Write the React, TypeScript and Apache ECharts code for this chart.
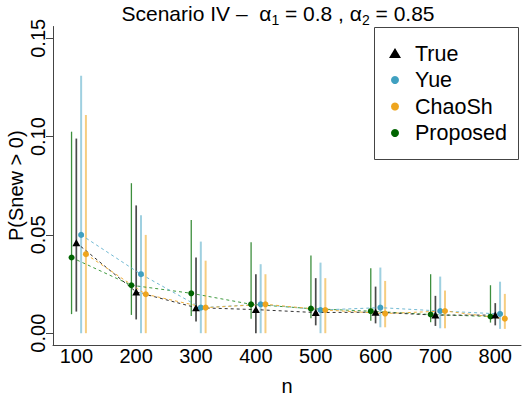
import React, { useEffect, useRef } from "react";
import * as echarts from "echarts";

// ---- data ----
const nValues = [100, 200, 300, 400, 500, 600, 700, 800];
const xTicks = [100, 200, 300, 400, 500, 600, 700, 800];
const yTicks = [0, 0.05, 0.1, 0.15];

const trueEst = [0.046, 0.021, 0.013, 0.012, 0.0105, 0.0107, 0.0092, 0.0092];
const trueLo = [0.011, 0.007, 0.006, 0.0, 0.004, 0.005, 0.0037, 0.004];
const trueHi = [0.099, 0.065, 0.0385, 0.03, 0.028, 0.0237, 0.019, 0.0153];

const yueEst = [0.05, 0.03, 0.013, 0.0147, 0.0118, 0.013, 0.0113, 0.0098];
const yueLo = [0.0, 0.0, 0.0, 0.0, 0.0, 0.003, 0.0025, 0.0022];
const yueHi = [0.131, 0.06, 0.0466, 0.0351, 0.0359, 0.0334, 0.0288, 0.0262];

const chaoEst = [0.0402, 0.0198, 0.013, 0.0147, 0.0118, 0.01, 0.0113, 0.0074];
const chaoLo = [0.0, 0.0, 0.0, 0.0, 0.0, 0.003, 0.0025, 0.0022];
const chaoHi = [0.111, 0.05, 0.0369, 0.03, 0.028, 0.0266, 0.0217, 0.02];

const propEst = [0.0385, 0.0244, 0.0203, 0.0147, 0.0125, 0.0112, 0.0095, 0.0085];
const propLo = [0.0097, 0.0093, 0.0088, 0.0073, 0.0076, 0.0063, 0.0056, 0.0054];
const propHi = [0.1025, 0.0763, 0.0576, 0.0463, 0.0395, 0.033, 0.03, 0.0244];

const seriesNames = ["True", "Yue", "ChaoSh", "Proposed"];

const FONT = "'Liberation Sans', Arial, Helvetica, sans-serif";

type Method = {
  name: string;
  est: number[];
  lo: number[];
  hi: number[];
  dodge: number;
  point: string;
  bar: string;
  barWidth: number;
  dash: string;
  symbol: string;
  symbolSize: number | number[];
};

const methods: Method[] = [
  { name: seriesNames[3], est: propEst, lo: propLo, hi: propHi, dodge: -8, point: "#006400", bar: "#3d8f3d", barWidth: 1.3, dash: "#3f9a3f", symbol: "circle", symbolSize: 6 },
  { name: seriesNames[0], est: trueEst, lo: trueLo, hi: trueHi, dodge: 0, point: "#000000", bar: "#4a4a4a", barWidth: 1.7, dash: "#333333", symbol: "triangle", symbolSize: [8, 7] },
  { name: seriesNames[1], est: yueEst, lo: yueLo, hi: yueHi, dodge: 8, point: "#3fa0c0", bar: "#9fd0e0", barWidth: 2, dash: "#6fb8d2", symbol: "circle", symbolSize: 6 },
  { name: seriesNames[2], est: chaoEst, lo: chaoLo, hi: chaoHi, dodge: 16, point: "#eea51f", bar: "#f6cd80", barWidth: 2, dash: "#eeae3a", symbol: "circle", symbolSize: 6 },
];

export default function App() {
  const ref = useRef<HTMLDivElement>(null);
  useEffect(() => {
    if (!ref.current) return;
    const chart = echarts.init(ref.current, null, { renderer: "svg" });

    const series: any[] = [];
    methods.forEach((m) => {
      series.push({
        type: "custom",
        name: m.name + " CI",
        z: 1,
        silent: true,
        data: nValues.map((n, i) => [n + m.dodge, m.lo[i], m.hi[i]]),
        encode: { x: 0, y: [1, 2] },
        renderItem: (params: any, api: any) => {
          const x = api.value(0);
          const p1 = api.coord([x, api.value(1)]);
          const p2 = api.coord([x, api.value(2)]);
          return {
            type: "line",
            shape: { x1: p1[0], y1: p1[1], x2: p2[0], y2: p2[1] },
            style: { stroke: m.bar, lineWidth: m.barWidth },
          };
        },
      });
    });
    methods.forEach((m) => {
      series.push({
        type: "line",
        name: m.name,
        z: 3,
        data: nValues.map((n, i) => [n + m.dodge, m.est[i]]),
        symbol: m.symbol,
        symbolSize: m.symbolSize,
        showSymbol: true,
        itemStyle: { color: m.point },
        lineStyle: { color: m.dash, width: 1, type: [3, 3] },
      });
    });

    const legendRows = [
      { name: seriesNames[0], color: "#000000", tri: true },
      { name: seriesNames[1], color: "#3fa0c0", tri: false },
      { name: seriesNames[2], color: "#eea51f", tri: false },
      { name: seriesNames[3], color: "#006400", tri: false },
    ];
    const legendEls: any[] = [
      {
        type: "rect",
        shape: { x: 374.5, y: 27.5, width: 144, height: 132 },
        style: { fill: "#ffffff", stroke: "#444444", lineWidth: 1 },
        z: 10,
      },
    ];
    legendRows.forEach((r, i) => {
      const cy = 53.5 + i * 26.5;
      if (r.tri) {
        legendEls.push({
          type: "polygon",
          shape: { points: [[389, cy + 4.5], [401, cy + 4.5], [395, cy - 5.5]] },
          style: { fill: r.color },
          z: 11,
        });
      } else {
        legendEls.push({
          type: "circle",
          shape: { cx: 395, cy, r: 4 },
          style: { fill: r.color },
          z: 11,
        });
      }
      legendEls.push({
        type: "text",
        x: 415,
        y: cy,
        style: { text: r.name, fontSize: 21.5, fontFamily: FONT, fill: "#000", textVerticalAlign: "middle", textAlign: "left" },
        z: 11,
      });
    });

    legendEls.push({
      type: "text",
      x: 278,
      y: 13,
      style: {
        text: "{a|Scenario IV –  α}{s|1}{a| = 0.8 , α}{s|2}{a| = 0.85}",
        textAlign: "center",
        textVerticalAlign: "middle",
        rich: {
          a: { fontSize: 21, fontFamily: FONT, fill: "#000", lineHeight: 28, verticalAlign: "middle" },
          s: { fontSize: 14, fontFamily: FONT, fill: "#000", lineHeight: 14, verticalAlign: "bottom" },
        },
      },
      z: 11,
    });

    chart.setOption({
      animation: false,
      backgroundColor: "#ffffff",
      grid: { left: 53, right: 11, top: 26.5, bottom: 54, containLabel: false, outerBoundsMode: "none" },
      xAxis: {
        type: "value",
        min: 61,
        max: 843,
        name: "n",
        nameLocation: "middle",
        nameGap: 31,
        nameMoveOverlap: false,
        nameTextStyle: { fontSize: 20, fontFamily: FONT, color: "#000" },
        axisLine: { show: true, onZero: false, lineStyle: { color: "#444", width: 1 } },
        axisTick: { show: false },
        splitLine: { show: false },
        axisLabel: {
          customValues: xTicks,
          fontSize: 20,
          fontFamily: FONT,
          color: "#000",
          margin: 1,
        },
      },
      yAxis: {
        type: "value",
        min: -0.006,
        max: 0.156,
        name: "P(Snew > 0)",
        nameLocation: "middle",
        nameGap: 27,
        nameRotate: 90,
        nameMoveOverlap: false,
        nameTextStyle: { fontSize: 20, fontFamily: FONT, color: "#000" },
        axisLine: { show: true, lineStyle: { color: "#444", width: 1 } },
        axisTick: { show: true, customValues: yTicks, length: 7, lineStyle: { color: "#444" } },
        splitLine: { show: false },
        axisLabel: {
          customValues: yTicks,
          rotate: 90,
          fontSize: 20,
          fontFamily: FONT,
          color: "#000",
          margin: 5,
          formatter: (v: number) => v.toFixed(2),
        },
      },
      graphic: legendEls,
      series,
    });
    return () => chart.dispose();
  }, []);
  return <div ref={ref} style={{ width: 532, height: 399, position: "absolute", left: 0, top: 0 }} />;
}
